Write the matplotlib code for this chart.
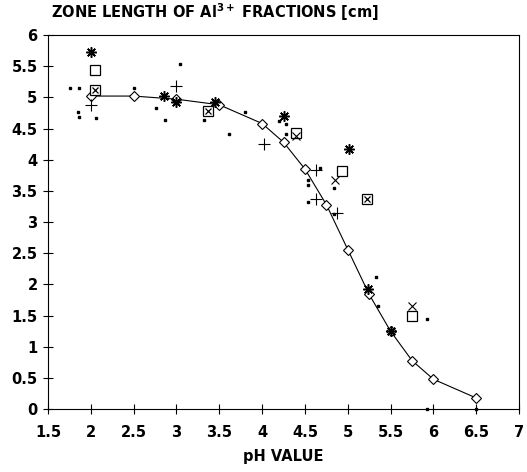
import matplotlib.pyplot as plt

# fitted curve points (open diamonds)
curve_ph = [2.0, 2.5, 3.0, 3.5, 4.0, 4.25, 4.5, 4.75, 5.0, 5.25, 5.5, 5.75, 6.0, 6.5]
curve_len = [5.02, 5.02, 4.97, 4.88, 4.58, 4.28, 3.85, 3.28, 2.56, 1.84, 1.25, 0.78, 0.48, 0.18]

star_ph = [2.0, 2.85, 3.0, 3.45, 4.25, 5.02, 5.24, 5.5]
star_len = [5.72, 5.02, 4.93, 4.92, 4.7, 4.17, 1.93, 1.26]

square_ph = [2.05, 4.4, 4.93, 5.75]
square_len = [5.43, 4.43, 3.82, 1.5]

boxed_ph = [2.05, 3.37, 5.22]
boxed_len = [5.12, 4.78, 3.37]

cross_ph = [4.4, 4.85, 5.75]
cross_len = [4.38, 3.68, 1.65]

plus_ph = [2.0, 3.0, 4.02, 4.63, 4.63, 4.88]
plus_len = [4.87, 5.18, 4.25, 3.84, 3.37, 3.15]

dot_ph = [1.76, 1.86, 1.85, 1.86, 2.06, 2.5, 2.76, 2.87, 3.04, 3.32, 3.61, 3.8,
          4.2, 4.28, 4.28, 4.68, 4.53, 4.53, 4.53, 4.84, 4.84, 5.33, 5.35, 5.92,
          5.92, 6.5]
dot_len = [5.15, 5.15, 4.77, 4.69, 4.67, 5.15, 4.83, 4.64, 5.54, 4.64, 4.41, 4.77,
           4.62, 4.57, 4.41, 3.86, 3.67, 3.6, 3.32, 3.13, 3.55, 2.12, 1.65, 1.45,
           0.0, 0.0]

xticks = [1.5, 2, 2.5, 3, 3.5, 4, 4.5, 5, 5.5, 6, 6.5, 7]
yticks = [0, 0.5, 1, 1.5, 2, 2.5, 3, 3.5, 4, 4.5, 5, 5.5, 6]

plt.rcParams['font.family'] = ['DejaVu Sans']
plt.rcParams['font.weight'] = 'bold'
plt.rcParams['mathtext.fontset'] = 'dejavusans'

fig = plt.figure(figsize=(5.27, 4.72), dpi=100)
ax = fig.add_axes([0.091, 0.133, 0.894, 0.793])

ax.plot(curve_ph, curve_len, color='black', linewidth=0.8, marker='D',
        markersize=5, markerfacecolor='white', markeredgecolor='black',
        markeredgewidth=0.8, zorder=3)
ax.plot(star_ph, star_len, linestyle='none', marker=(8, 2, 0), markersize=7.5,
        color='black', markeredgewidth=1.1, zorder=4)
ax.plot(square_ph, square_len, linestyle='none', marker='s', markersize=6.5,
        markerfacecolor='white', markeredgecolor='black', markeredgewidth=0.9, zorder=4)
ax.plot(boxed_ph, boxed_len, linestyle='none', marker='s', markersize=6.5,
        markerfacecolor='white', markeredgecolor='black', markeredgewidth=0.9, zorder=4)
ax.plot(boxed_ph, boxed_len, linestyle='none', marker='x', markersize=4.5,
        color='black', markeredgewidth=0.9, zorder=5)
ax.plot(cross_ph, cross_len, linestyle='none', marker='x', markersize=6,
        color='black', markeredgewidth=0.8, zorder=4)
ax.plot(plus_ph, plus_len, linestyle='none', marker='+', markersize=8,
        color='black', markeredgewidth=0.8, zorder=4)
ax.plot(dot_ph, dot_len, linestyle='none', marker='s', markersize=1.8,
        color='black', zorder=4, clip_on=False)

ax.set_xlim(1.5, 7)
ax.set_ylim(0, 6)
ax.set_xticks(xticks)
ax.set_xticklabels([f'{v:g}' for v in xticks])
ax.set_yticks(yticks)
ax.set_yticklabels([f'{v:g}' for v in yticks])
ax.tick_params(axis='both', direction='inout', length=7, width=0.8,
               labelsize=10.5, pad=4)
ax.tick_params(axis='x', pad=8)
for spine in ax.spines.values():
    spine.set_linewidth(0.8)

ax.set_xlabel('pH VALUE', fontsize=10.5, fontweight='bold', labelpad=6)
fig.text(0.097, 0.952, 'ZONE LENGTH OF Al$^{\\mathbf{3+}}$ FRACTIONS [cm]',
         fontsize=10.5, fontweight='bold', ha='left', va='bottom')

fig.savefig('out.png', dpi=100)
